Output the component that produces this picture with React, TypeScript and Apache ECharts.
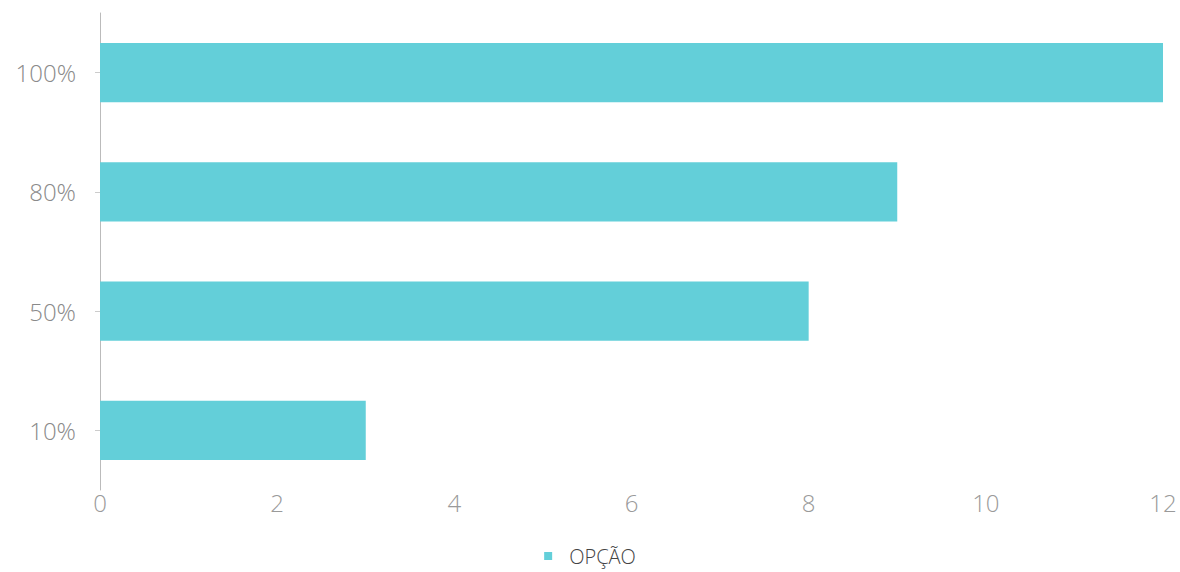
import React, { useEffect, useRef } from "react";
import * as echarts from "echarts";

const categories = ["10%", "50%", "80%", "100%"];
const values = [3, 8, 9, 12];
const seriesName = "OPÇÃO";
const xMin = 0;
const xMax = 12;
const xInterval = 2;

export default function App() {
  const ref = useRef<HTMLDivElement>(null);
  useEffect(() => {
    if (!ref.current) return;
    const chart = echarts.init(ref.current, undefined, { renderer: "svg" });
    chart.setOption({
      animation: false,
      backgroundColor: "#ffffff",
      textStyle: { fontFamily: "'Open Sans', sans-serif" },
      grid: { left: 100, right: 17, top: 13, bottom: 82, containLabel: false },
      legend: {
        data: [seriesName],
        left: "center",
        top: 541,
        icon: "rect",
        itemWidth: 8,
        itemHeight: 8,
        textStyle: {
          color: "#444444",
          fontSize: 20,
          fontWeight: 300,
          padding: [0, 0, 0, 12],
        },
      },
      xAxis: {
        type: "value",
        min: xMin,
        max: xMax,
        interval: xInterval,
        axisLine: { show: false },
        axisTick: { show: false },
        splitLine: { show: false },
        axisLabel: { color: "#9a9a9a", fontSize: 24, fontWeight: 300, margin: 0 },
      },
      yAxis: {
        type: "category",
        data: categories,
        axisLine: { show: true, lineStyle: { color: "#bbbbbb", width: 1 } },
        axisTick: { show: true, alignWithLabel: true, length: 5, lineStyle: { color: "#cccccc" } },
        axisLabel: { color: "#8a8a8a", fontSize: 24, fontWeight: 300, margin: 24 },
      },
      series: [
        {
          name: seriesName,
          type: "bar",
          data: values,
          barWidth: "49.5%",
          itemStyle: { color: "#63cfd9" },
        },
      ],
    });
    return () => chart.dispose();
  }, []);
  return (
    <div
      ref={ref}
      style={{ position: "absolute", left: 0, top: 0, width: 1180, height: 572 }}
    />
  );
}
